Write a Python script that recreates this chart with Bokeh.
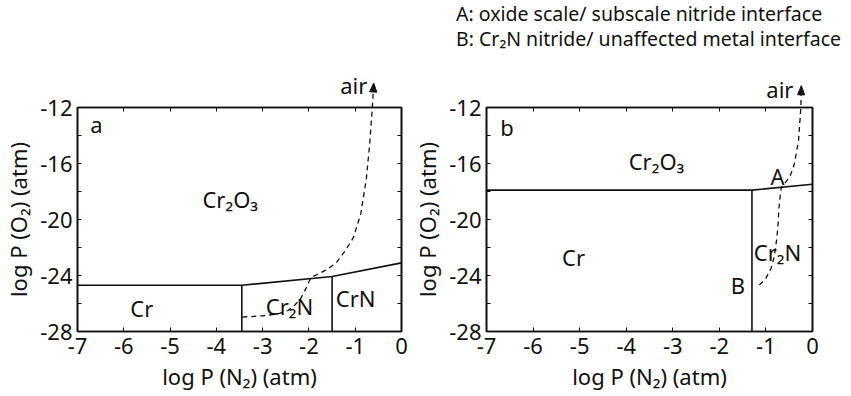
import math

from bokeh.core.properties import value
from bokeh.embed import file_html
from bokeh.layouts import row
from bokeh.models import CustomLabelingPolicy, FixedTicker, Label, LinearAxis, Range1d
from bokeh.plotting import figure
from bokeh.resources import INLINE

FONT = "Noto Sans"
INK = "#111111"

# ---- axes -------------------------------------------------------------
X_MIN, X_MAX = -7, 0
Y_MIN, Y_MAX = -28, -12
x_ticks = [-7, -6, -5, -4, -3, -2, -1, 0]
x_tick_labels = ["-7", "-6", "-5", "-4", "-3", "-2", "-1", "0"]
y_ticks = [-28, -24, -20, -16, -12]
y_tick_labels = ["-28", "-24", "-20", "-16", "-12"]
y_minor = [-26, -22, -18, -14]
x_title = "log P (N₂) (atm)"
y_title = "log P (O₂) (atm)"

# ---- panel (a): stability diagram ----------------------------------------
a_ox_x = [-7.0, -3.45, -1.5, 0.0]          # lower limit of Cr2O3 field
a_ox_y = [-24.7, -24.7, -24.07, -23.1]
a_wall_x = [-3.45, -1.5]                   # Cr | Cr2N | CrN boundaries
a_wall_top = [-24.7, -24.07]
a_path_x = [-3.44, -3.0, -2.67, -2.45, -2.3, -2.17, -2.06, -1.96, -1.80,
            -1.60, -1.40, -1.22, -1.04, -0.88, -0.76, -0.69, -0.63, -0.60]
a_path_y = [-26.97, -26.88, -26.74, -26.5, -26.1, -25.6, -24.9, -24.15, -23.9,
            -23.55, -23.05, -22.25, -21.3, -19.6, -17.1, -14.7, -12.0, -10.25]

# ---- panel (b) -------------------------------------------------------------
b_ox_x = [-7.0, -1.3, 0.0]
b_ox_y = [-17.9, -17.9, -17.48]
b_wall_x = [-1.3]
b_wall_top = [-17.9]
b_path_x = [-1.14, -1.0, -0.89, -0.82, -0.765, -0.74, -0.72, -0.69, -0.67,
            -0.58, -0.48, -0.39, -0.30, -0.25, -0.24]
b_path_y = [-24.68, -24.2, -23.48, -22.64, -21.32, -20.36, -19.16, -18.2, -17.7,
            -17.35, -16.9, -16.04, -14.36, -12.0, -10.45]

legend_lines = ["A: oxide scale/ subscale nitride interface",
                "B: Cr₂N nitride/ unaffected metal interface"]

HEIGHT = 396
BORDER_TOP, BORDER_BOTTOM = 107, 65

# keep the tick marks on the top/right frame edges but draw no labels there
NO_LABELS = CustomLabelingPolicy(
    code="for (const i of indices) { indices.unset(i) }\nreturn indices")


def make_panel(width, border_left, border_right):
    p = figure(width=width, height=HEIGHT,
               x_range=Range1d(X_MIN, X_MAX), y_range=Range1d(Y_MIN, Y_MAX),
               min_border_left=border_left, min_border_right=border_right,
               min_border_top=BORDER_TOP, min_border_bottom=BORDER_BOTTOM,
               output_backend="svg", toolbar_location=None,
               x_axis_label=x_title, y_axis_label=y_title)
    # pixels per data unit, used for marks that sit outside the frame
    p.tags = [(width - border_left - border_right) / (X_MAX - X_MIN),
              (HEIGHT - BORDER_TOP - BORDER_BOTTOM) / (Y_MAX - Y_MIN)]
    p.xgrid.visible = False
    p.ygrid.visible = False
    p.background_fill_color = "white"
    p.border_fill_color = "white"
    p.outline_line_color = INK
    p.outline_line_width = 1.6

    p.add_layout(LinearAxis(), "above")
    p.add_layout(LinearAxis(), "right")
    for ax in p.xaxis:
        ax.ticker = FixedTicker(ticks=x_ticks, minor_ticks=[])
        ax.major_label_overrides = dict(zip(x_ticks, x_tick_labels))
        ax.major_label_standoff = 6
    for ax in p.yaxis:
        ax.ticker = FixedTicker(ticks=y_ticks, minor_ticks=y_minor)
        ax.major_label_overrides = dict(zip(y_ticks, y_tick_labels))
        ax.major_label_standoff = 5
    for ax in p.axis:
        ax.axis_line_color = INK
        ax.axis_line_width = 1.6
        ax.major_tick_in = 4
        ax.major_tick_out = 0
        ax.minor_tick_in = 4
        ax.minor_tick_out = 0
        ax.major_tick_line_color = INK
        ax.minor_tick_line_color = INK
        ax.major_label_text_font = FONT
        ax.major_label_text_font_size = "22px"
        ax.major_label_text_color = INK
        ax.axis_label_text_font = FONT
        ax.axis_label_text_font_size = "22px"
        ax.axis_label_text_font_style = "normal"
        ax.axis_label_text_color = INK
        ax.axis_label_standoff = 4
    for ax in p.above + p.right:
        ax.major_label_policy = NO_LABELS
        ax.major_label_text_font_size = "1px"
        ax.major_label_standoff = 0
        ax.axis_label = None
    return p


def draw_phase(p, ox_x, ox_y, wall_x, wall_top, path_x, path_y):
    p.line(ox_x, ox_y, line_color=INK, line_width=1.6)
    p.segment(x0=wall_x, y0=wall_top, x1=wall_x, y1=[Y_MIN] * len(wall_x),
              line_color=INK, line_width=1.6)
    # oxygen-potential path through the scale, running out toward air
    p.line(path_x, path_y, line_color=INK, line_width=1.3, line_dash="5 4",
           level="overlay")
    # filled arrow head at the end of the path (sized in pixels)
    kx, ky = p.tags
    tx, ty = path_x[-1], path_y[-1]
    dx, dy = (tx - path_x[-2]) * kx, (ty - path_y[-2]) * ky
    n = math.hypot(dx, dy)
    ux, uy = dx / n, dy / n
    length, half = 9.0, 3.6
    bx, by = -ux * length, -uy * length
    head_x = [tx, tx + (bx - uy * half) / kx, tx + (bx + uy * half) / kx]
    head_y = [ty, ty + (by + ux * half) / ky, ty + (by - ux * half) / ky]
    p.patch(head_x, head_y, fill_color=INK, line_color=INK, line_width=1,
            level="overlay")


def add_text(p, x, y, text, align="center", size="22px"):
    p.add_layout(Label(x=x, y=y, text=text, text_align=align,
                       text_baseline="middle", text_font=FONT,
                       text_font_size=size, text_color=INK))


def add_outer_text(p, x, y, text, align="center", size="22px"):
    # text outside the frame: anchor it just inside and shift it by pixels
    kx, ky = p.tags
    ax = min(max(x, X_MIN + 0.05), X_MAX - 0.05)
    ay = min(max(y, Y_MIN + 0.1), Y_MAX - 0.1)
    p.text(x=[ax], y=[ay], text=[text],
           x_offset=(x - ax) * kx, y_offset=-(y - ay) * ky,
           text_align=align, text_baseline="middle",
           text_font=value(FONT), text_font_size=value(size),
           text_color=INK, level="overlay")


# panel (a)
pa = make_panel(409, 75, 8)
draw_phase(pa, a_ox_x, a_ox_y, a_wall_x, a_wall_top, a_path_x, a_path_y)
add_text(pa, -6.59, -13.15, "a")
add_text(pa, -3.70, -18.5, "Cr₂O₃")
add_text(pa, -5.61, -26.35, "Cr")
add_text(pa, -2.42, -26.2, "Cr₂N")
add_text(pa, -0.99, -25.6, "CrN")
add_outer_text(pa, -0.74, -10.4, "air", align="right")

# panel (b)
pb = make_panel(442, 75, 39)
draw_phase(pb, b_ox_x, b_ox_y, b_wall_x, b_wall_top, b_path_x, b_path_y)
add_text(pb, -6.56, -13.4, "b")
add_text(pb, -3.35, -15.8, "Cr₂O₃")
add_text(pb, -5.13, -22.7, "Cr")
add_text(pb, -0.75, -22.3, "Cr₂N")
add_text(pb, -0.75, -16.9, "A")
add_text(pb, -1.60, -24.7, "B")
add_outer_text(pb, -0.41, -10.7, "air", align="right")
add_outer_text(pb, -7.65, -5.32, legend_lines[0], align="left", size="19.5px")
add_outer_text(pb, -7.65, -7.08, legend_lines[1], align="left", size="19.5px")

layout = row(pa, pb)
open("out.html", "w").write(file_html(layout, INLINE))
